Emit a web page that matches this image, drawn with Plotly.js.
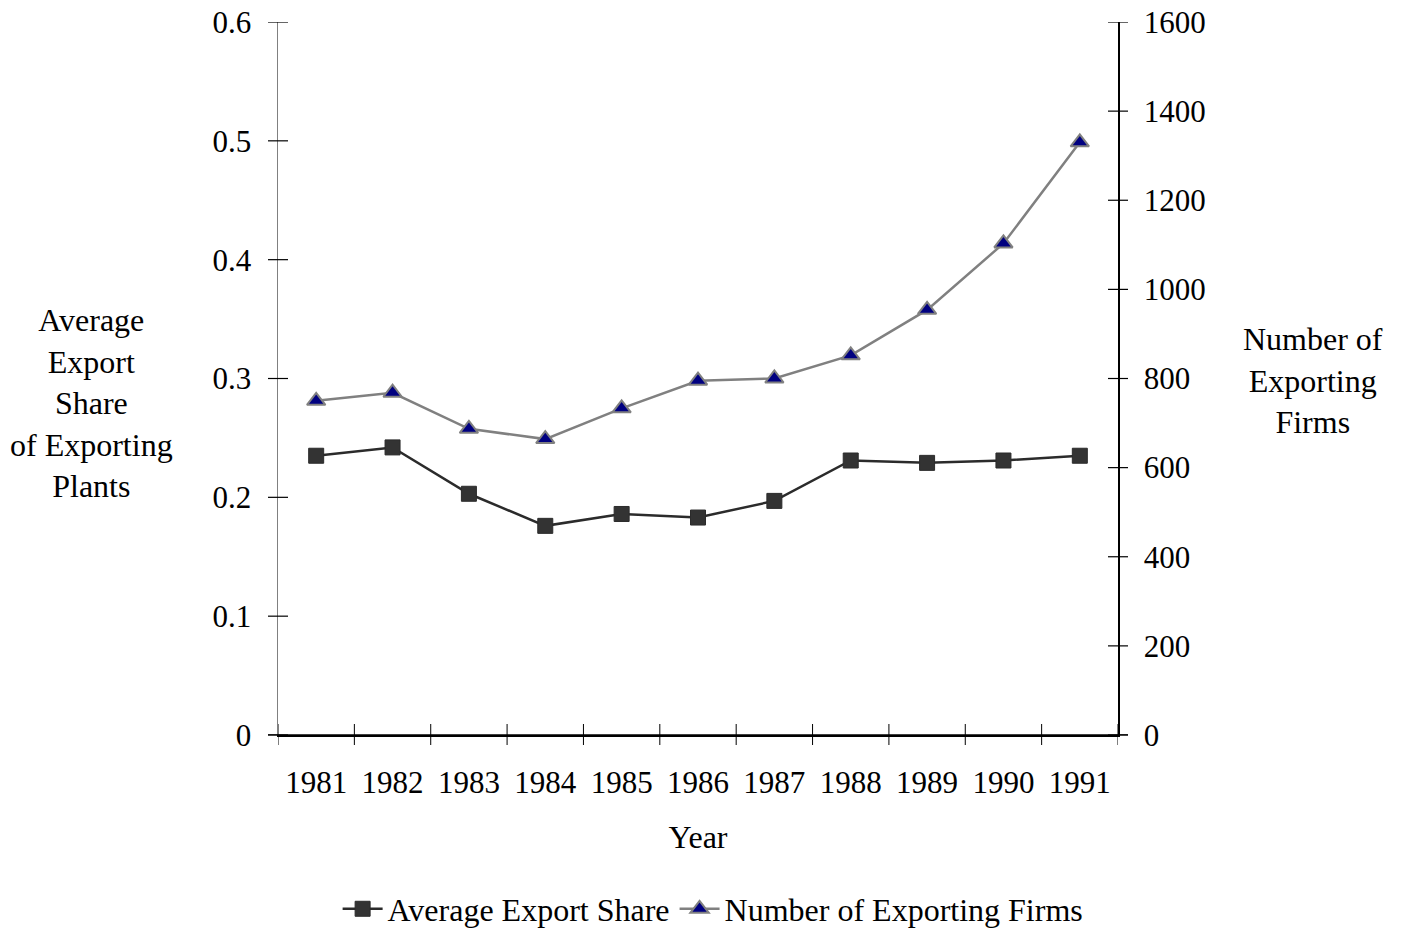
<!DOCTYPE html>
<html>
<head>
<meta charset="utf-8">
<script src="https://cdn.plot.ly/plotly-3.0.1.min.js"></script>
<style>html,body{margin:0;padding:0;background:#fff;}#chart{width:1406px;height:930px;}</style>
</head>
<body>
<div id="chart"></div>
<script>
const years = ["1981","1982","1983","1984","1985","1986","1987","1988","1989","1990","1991"];
const avgExportShare = [0.235, 0.242, 0.203, 0.176, 0.186, 0.183, 0.197, 0.231, 0.229, 0.231, 0.235];
const numExportingFirms = [750, 768, 687, 664, 733, 795, 800, 852, 954, 1103, 1330];
const leftTicks = [0, 0.1, 0.2, 0.3, 0.4, 0.5, 0.6];
const rightTicks = [0, 200, 400, 600, 800, 1000, 1200, 1400, 1600];

const FONT = "Liberation Serif, Times New Roman, serif";
const FS = 31;
const FT = 32;
const boundaries = years.map((_, i) => i - 0.5).concat([years.length - 0.5]);

const traces = [
  {
    x: years, y: avgExportShare, name: "Average Export Share", type: "scatter", mode: "lines+markers",
    line: {color: "#2b2b2b", width: 2.5},
    marker: {symbol: "square", size: 15, color: "#333333", line: {color: "#2b2b2b", width: 1}},
    xaxis: "x", yaxis: "y"
  },
  {
    x: years, y: numExportingFirms, name: "Number of Exporting Firms", type: "scatter", mode: "lines+markers",
    line: {color: "#808080", width: 2.5},
    marker: {symbol: "triangle-up", size: 16, color: "#000080", line: {color: "#808080", width: 2}},
    xaxis: "x", yaxis: "y2"
  }
];

// cross-style tick marks drawn as shapes, positioned from the tick arrays
const shapes = [];
leftTicks.forEach(v => shapes.push({type: "line", xref: "paper", yref: "y", xsizemode: "pixel", xanchor: 0,
  x0: -10, x1: 10, y0: v, y1: v, line: {color: "#000", width: 1.2}}));
rightTicks.forEach(v => shapes.push({type: "line", xref: "paper", yref: "y2", xsizemode: "pixel", xanchor: 1,
  x0: -10, x1: 10, y0: v, y1: v, line: {color: "#000", width: 1.2}}));
boundaries.forEach(b => shapes.push({type: "line", xref: "x", yref: "paper", ysizemode: "pixel", yanchor: 0,
  y0: -10, y1: 11, x0: b, x1: b, line: {color: "#000", width: 1}}));
// extended baseline
shapes.push({type: "line", xref: "paper", yref: "paper", xsizemode: "pixel", xanchor: 0,
  x0: -10, x1: 850, y0: 0, y1: 0, line: {color: "#000", width: 1.5}});

const tickFont = {family: FONT, size: FS, color: "#000"};
const layout = {
  width: 1406, height: 930,
  margin: {l: 278, r: 288, t: 22, b: 195, pad: 0, autoexpand: false},
  paper_bgcolor: "#fff", plot_bgcolor: "#fff",
  showlegend: true,
  legend: {orientation: "h", x: 0.518, xanchor: "center", y: -0.244, yanchor: "middle",
           font: {family: FONT, size: FT, color: "#000"}, itemwidth: 40, tracegroupgap: 0},
  xaxis: {
    type: "category", range: [-0.5, years.length - 0.5],
    ticks: "", showline: true, linecolor: "#000", linewidth: 1.5, showgrid: false, zeroline: false,
    tickfont: tickFont, ticklabelstandoff: 19,
    title: {text: "Year", font: {family: FONT, size: FT, color: "#000"}, standoff: 27}
  },
  yaxis: {
    range: [0, 0.6], tickmode: "array", tickvals: leftTicks, ticktext: leftTicks.map(String),
    ticks: "", showline: true, linecolor: "#808080", linewidth: 1.5,
    showgrid: false, zeroline: false, tickfont: tickFont, ticklabelstandoff: 19
  },
  yaxis2: {
    overlaying: "y", side: "right", range: [0, 1600], tickmode: "array", tickvals: rightTicks, ticktext: rightTicks.map(String),
    ticks: "", showline: true, linecolor: "#000", linewidth: 1.5,
    showgrid: false, zeroline: false, tickfont: tickFont, ticklabelstandoff: 18, anchor: "x"
  },
  shapes: shapes,
  annotations: [
    {text: "Average<br>Export<br>Share<br>of Exporting<br>Plants", xref: "paper", yref: "paper",
     x: (91 - 278) / 840, y: (735 - 403) / 713, xanchor: "center", yanchor: "middle", showarrow: false,
     font: {family: FONT, size: FT, color: "#000"}, align: "center"},
    {text: "Number of<br>Exporting<br>Firms", xref: "paper", yref: "paper",
     x: (1313 - 278) / 840, y: (735 - 381) / 713, xanchor: "center", yanchor: "middle", showarrow: false,
     font: {family: FONT, size: FT, color: "#000"}, align: "center"}
  ]
};

Plotly.newPlot("chart", traces, layout, {displayModeBar: false, staticPlot: true});
</script>
</body>
</html>
